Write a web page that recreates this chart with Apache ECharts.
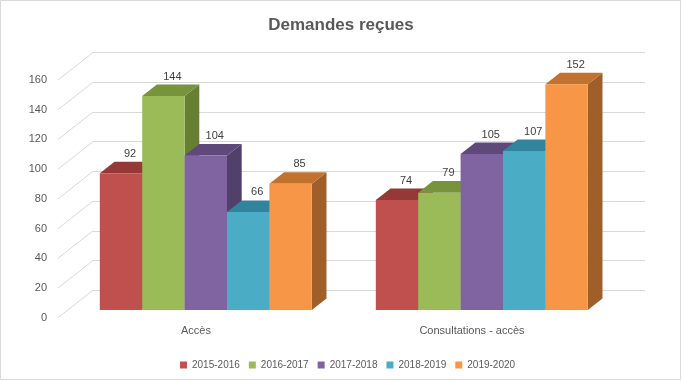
<!DOCTYPE html>
<html>
<head>
<meta charset="utf-8">
<script src="https://cdn.jsdelivr.net/npm/echarts@6/dist/echarts.min.js"></script>
<style>html,body{margin:0;padding:0;background:#fff}#c{width:682px;height:381px}</style>
</head>
<body>
<div id="c"></div>
<script>
const CATEGORIES = ['Accès', 'Consultations - accès'];
const YEARS = ['2015-2016', '2016-2017', '2017-2018', '2018-2019', '2019-2020'];
const V_2015_2016 = [92, 74];
const V_2016_2017 = [144, 79];
const V_2017_2018 = [104, 105];
const V_2018_2019 = [66, 107];
const V_2019_2020 = [85, 152];
const Y_TICKS = [0, 20, 40, 60, 80, 100, 120, 140, 160];
const Y_MIN = 0, Y_MAX = 160, Y_STEP = 20;

const SERIES_VALUES = [V_2015_2016, V_2016_2017, V_2017_2018, V_2018_2019, V_2019_2020];
const FRONT_COL = ['#C0504D', '#9BBB59', '#8064A2', '#4BACC6', '#F79646'];
const TOP_COL   = ['#953936', '#77933C', '#5F497A', '#31849B', '#C2722F'];
const SIDE_COL  = ['#7F2F2D', '#667F33', '#51406A', '#2C7689', '#A05F28'];

// 3D box layout (style)
const FL = 58, FT = 80, PW = 552, PH = 237.7;   // front (depth 0) plane
const DX = 35, DY = 27.5;                       // full depth offset
const BAR_D0 = 0.28, BAR_DD = 0.42;             // bar depth start / depth
const BAR_FRAC = 0.1536;
const W = 682, H = 381;
const bdx = DX * BAR_DD, bdy = DY * BAR_DD;

function gridAt(d) {
  return { left: FL + DX * d, top: FT - DY * d, width: PW, height: PH, containLabel: false };
}

const grids = [gridAt(1), gridAt(0), gridAt(BAR_D0)];

const series = [];
series.push({
  type: 'custom', xAxisIndex: 0, yAxisIndex: 0, z: 1, silent: true,
  data: Y_TICKS.map(v => [0, v]),
  renderItem: function (params, api) {
    const p = api.coord([0, api.value(1)]);
    return { type: 'line', shape: { x1: p[0], y1: p[1], x2: p[0] - DX, y2: p[1] + DY },
      style: { stroke: '#D9D9D9', lineWidth: 1 } };
  }
});

YEARS.forEach((name, si) => {
  series.push({
    name: name, type: 'custom', xAxisIndex: 2, yAxisIndex: 2, z: 3 + si,
    itemStyle: { color: FRONT_COL[si] },
    data: SERIES_VALUES[si].map((v, ci) => [ci, v]),
    encode: { x: 0, y: 1 },
    renderItem: function (params, api) {
      const ci = api.value(0), v = api.value(1);
      const base = api.coord([ci, 0]);
      const top = api.coord([ci, v]);
      const catW = api.size([1, 0])[0];
      const bw = catW * BAR_FRAC;
      const x0 = base[0] + (si - 2.5) * bw, x1 = x0 + bw;
      const yt = top[1], yb = base[1];
      return {
        type: 'group',
        children: [
          { type: 'polygon', shape: { points: [[x1, yt], [x1 + bdx, yt - bdy], [x1 + bdx, yb - bdy], [x1, yb]] },
            style: { fill: SIDE_COL[si] } },
          { type: 'polygon', shape: { points: [[x0, yt], [x1, yt], [x1 + bdx, yt - bdy], [x0 + bdx, yt - bdy]] },
            style: { fill: TOP_COL[si] } },
          { type: 'rect', shape: { x: x0, y: yt, width: bw, height: yb - yt },
            style: { fill: FRONT_COL[si] } },
          { type: 'text', x: (x0 + x1) / 2 + 9, y: yt - 19.5,
            style: { text: String(v), fill: '#404040', font: '11px "Liberation Sans", Arial, sans-serif',
              align: 'center', verticalAlign: 'middle' } }
        ]
      };
    }
  });
});

const option = {
  backgroundColor: '#FFFFFF',
  animation: false,
  title: {
    text: 'Demandes reçues', left: 'center', top: 12,
    textStyle: { fontFamily: '"Liberation Sans", Arial, sans-serif', fontSize: 17, fontWeight: 'bold', color: '#595959' }
  },
  legend: {
    data: YEARS, left: 175, top: 355, icon: 'rect', itemWidth: 7, itemHeight: 7, itemGap: 9,
    textStyle: { fontFamily: '"Liberation Sans", Arial, sans-serif', fontSize: 10, color: '#595959' }
  },
  grid: grids,
  xAxis: [
    { gridIndex: 0, type: 'value', min: 0, max: 1, show: false },
    { gridIndex: 1, type: 'category', data: CATEGORIES, axisLine: { show: false }, axisTick: { show: false },
      axisLabel: { margin: 8, color: '#595959', fontSize: 11, fontFamily: '"Liberation Sans", Arial, sans-serif' } },
    { gridIndex: 2, type: 'category', data: CATEGORIES, show: false }
  ],
  yAxis: [
    { gridIndex: 0, type: 'value', min: Y_MIN, max: Y_MAX, interval: Y_STEP, axisLabel: { show: false },
      axisLine: { show: false }, axisTick: { show: false },
      splitLine: { show: true, lineStyle: { color: '#D9D9D9', width: 1 } } },
    { gridIndex: 1, type: 'value', min: Y_MIN, max: Y_MAX, interval: Y_STEP,
      axisLine: { show: false }, axisTick: { show: false }, splitLine: { show: false },
      axisLabel: { margin: 11, color: '#595959', fontSize: 11, fontFamily: '"Liberation Sans", Arial, sans-serif' } },
    { gridIndex: 2, type: 'value', min: Y_MIN, max: Y_MAX, show: false }
  ],
  graphic: [
    { type: 'rect', shape: { x: 0.5, y: 0.5, width: W - 2, height: H - 2 }, style: { fill: null, stroke: '#D9D9D9', lineWidth: 1 }, silent: true, z: 0 }
  ],
  series: series
};

const chart = echarts.init(document.getElementById('c'), null, { renderer: 'canvas' });
chart.setOption(option);
</script>
</body>
</html>
